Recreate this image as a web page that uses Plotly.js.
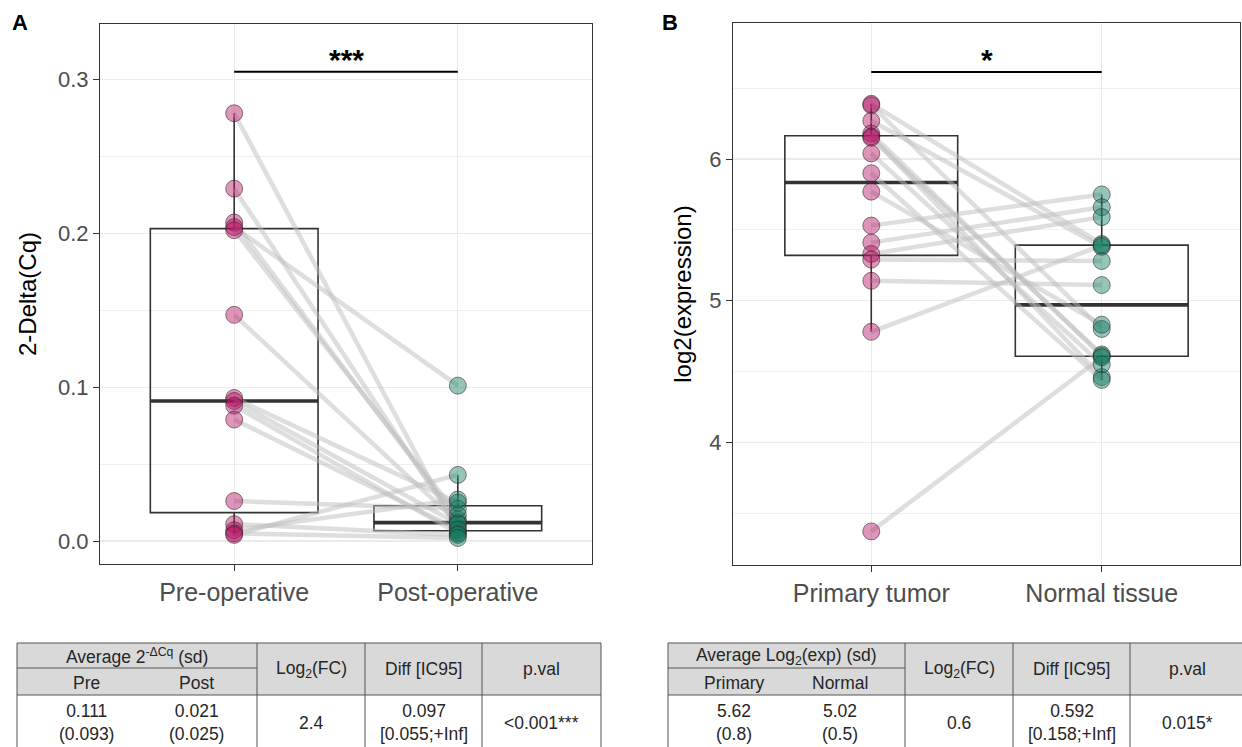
<!DOCTYPE html>
<html><head><meta charset="utf-8">
<script src="https://cdn.plot.ly/plotly-3.0.1.min.js"></script>
<style>body{margin:0;background:#fff}</style>
</head><body><div id="chart" style="width:1242px;height:747px"></div>
<script>
// ---------- data ----------
const groupsA = ['Pre-operative', 'Post-operative'];
const preOp  = [0.278,0.229,0.207,0.204,0.202,0.147,0.093,0.091,0.088,0.079,0.026,0.011,0.007,0.005,0.004];
const postOp = [0.006,0.009,0.014,0.101,0.017,0.012,0.025,0.011,0.005,0.0075,0.021,0.004,0.027,0.002,0.043];

const groupsB = ['Primary tumor', 'Normal tissue'];
const primary = [6.39,6.38,6.27,6.18,6.16,6.15,6.04,5.90,5.77,5.53,5.41,5.33,5.29,5.14,4.78,3.37];
const normal  = [5.40,4.80,5.38,4.61,4.46,4.62,4.55,4.44,4.83,5.75,5.66,5.59,5.28,5.11,5.39,4.60];

const sigLabels = ['***', '*'];
const sigHeights = [0.305, 6.615];

const tableAHead1 = ['Average 2<sup>-ΔCq</sup> (sd)', 'Log<sub>2</sub>(FC)', 'Diff [IC95]', 'p.val'];
const tableAHead2 = ['Pre', 'Post'];
const tableARow   = ['0.111<br>(0.093)', '0.021<br>(0.025)', '2.4', '0.097<br>[0.055;+Inf]', '&lt;0.001***'];
const tableBHead1 = ['Average Log<sub>2</sub>(exp) (sd)', 'Log<sub>2</sub>(FC)', 'Diff [IC95]', 'p.val'];
const tableBHead2 = ['Primary', 'Normal'];
const tableBRow   = ['5.62<br>(0.8)', '5.02<br>(0.5)', '0.6', '0.592<br>[0.158;+Inf]', '0.015*'];

// ---------- helpers ----------
const W = 1242, H = 747;
const px = x => x / W, py = y => 1 - y / H;
function q7(arr, p) {
  const s = [...arr].sort((a, b) => a - b);
  const h = (s.length - 1) * p, lo = Math.floor(h), hi = Math.min(lo + 1, s.length - 1);
  return s[lo] + (h - lo) * (s[hi] - s[lo]);
}
function bstats(arr) {
  const q1 = q7(arr, .25), m = q7(arr, .5), q3 = q7(arr, .75), iqr = q3 - q1;
  const lf = Math.min(...arr.filter(v => v >= q1 - 1.5 * iqr));
  const uf = Math.max(...arr.filter(v => v <= q3 + 1.5 * iqr));
  return {q1, m, q3, lf, uf};
}
const BOXW = 0.75;
const pinkFill = 'rgba(180,20,100,0.45)', tealFill = 'rgba(20,125,98,0.45)';
const ptLine = 'rgba(50,30,40,0.55)';

const traces = [];
function panel(a, b, xa, ya) {
  const sa = bstats(a), sb = bstats(b);
  traces.push({type:'box', xaxis:xa, yaxis:ya, x:[1,2], q1:[sa.q1,sb.q1], median:[sa.m,sb.m], q3:[sa.q3,sb.q3],
    lowerfence:[sa.lf,sb.lf], upperfence:[sa.uf,sb.uf], width:BOXW, whiskerwidth:0, boxpoints:false,
    fillcolor:'rgba(0,0,0,0)', line:{color:'#333333', width:1.6}, hoverinfo:'skip'});
  [sa, sb].forEach((s, i) => traces.push({type:'scatter', mode:'lines', xaxis:xa, yaxis:ya,
    x:[i + 1 - BOXW/2, i + 1 + BOXW/2], y:[s.m, s.m], line:{color:'#333333', width:3.6}, hoverinfo:'skip'}));
  a.forEach((v, i) => traces.push({type:'scatter', mode:'lines', xaxis:xa, yaxis:ya, x:[1,2], y:[v, b[i]],
    line:{color:'rgba(190,190,190,0.5)', width:4.5}, hoverinfo:'skip'}));
  traces.push({type:'scatter', mode:'markers', xaxis:xa, yaxis:ya, x:a.map(() => 1), y:a,
    marker:{size:17, color:pinkFill, line:{color:ptLine, width:1}}});
  traces.push({type:'scatter', mode:'markers', xaxis:xa, yaxis:ya, x:b.map(() => 2), y:b,
    marker:{size:17, color:tealFill, line:{color:ptLine, width:1}}});
}
panel(preOp, postOp, 'x', 'y');
panel(primary, normal, 'x2', 'y2');
// significance bars
traces.push({type:'scatter', mode:'lines', xaxis:'x', yaxis:'y', x:[1,2], y:[sigHeights[0], sigHeights[0]], line:{color:'#000', width:2}, hoverinfo:'skip'});
traces.push({type:'scatter', mode:'lines', xaxis:'x2', yaxis:'y2', x:[1,2], y:[sigHeights[1], sigHeights[1]], line:{color:'#000', width:2}, hoverinfo:'skip'});

const FONT = 'Liberation Sans, Arial, Helvetica, sans-serif';
const axBase = {showgrid:true, gridcolor:'#EBEBEB', gridwidth:1.2, showline:true, mirror:true, linecolor:'#333333',
  linewidth:1, ticks:'outside', ticklen:6, tickcolor:'#333333', zeroline:false, fixedrange:true};
const layout = {
  width:W, height:H, margin:{l:0, r:0, t:0, b:0}, paper_bgcolor:'#fff', plot_bgcolor:'#fff', showlegend:false,
  font:{family:FONT, color:'#000'},
  xaxis: Object.assign({}, axBase, {domain:[px(100), px(592)], range:[0.4, 2.6], tickvals:[1,2], ticktext:groupsA,
    tickfont:{size:25, color:'#4D4D4D'}, anchor:'y'}),
  yaxis: Object.assign({}, axBase, {domain:[py(564), py(24)], range:[-0.0149, 0.336], tick0:0, dtick:0.1, tickformat:'.1f',
    tickfont:{size:22, color:'#4D4D4D'}, anchor:'x', minor:{dtick:0.05, showgrid:true, gridcolor:'#F0F0F0', gridwidth:1, ticks:''},
    title:{text:'2-Delta(Cq)', font:{size:24, color:'#000'}, standoff:14}}),
  xaxis2: Object.assign({}, axBase, {domain:[px(733), px(1240)], range:[0.4, 2.6], tickvals:[1,2], ticktext:groupsB,
    tickfont:{size:25, color:'#4D4D4D'}, anchor:'y2'}),
  yaxis2: Object.assign({}, axBase, {domain:[py(565), py(23)], range:[3.133, 6.961], tick0:0, dtick:1,
    tickfont:{size:22, color:'#4D4D4D'}, anchor:'x2', minor:{dtick:0.5, showgrid:true, gridcolor:'#F0F0F0', gridwidth:1, ticks:''},
    title:{text:'log2(expression)', font:{size:24, color:'#000'}, standoff:10}}),
  annotations:[], shapes:[]
};
// significance labels
layout.annotations.push({xref:'x', yref:'y', x:1.5, y:sigHeights[0], text:'<b>' + sigLabels[0] + '</b>', showarrow:false, xanchor:'center', yanchor:'bottom', font:{size:30, color:'#000'}, yshift:-6});
layout.annotations.push({xref:'x2', yref:'y2', x:1.5, y:sigHeights[1], text:'<b>' + sigLabels[1] + '</b>', showarrow:false, xanchor:'center', yanchor:'bottom', font:{size:30, color:'#000'}, yshift:-6});
// panel letters
layout.annotations.push({xref:'paper', yref:'paper', x:px(20), y:py(22), text:'<b>A</b>', showarrow:false, xanchor:'center', yanchor:'middle', font:{size:22, color:'#000'}});
layout.annotations.push({xref:'paper', yref:'paper', x:px(670), y:py(22), text:'<b>B</b>', showarrow:false, xanchor:'center', yanchor:'middle', font:{size:22, color:'#000'}});

// tables
function table(x0, cols, x1, subL, subR, head1, head2, row) {
  const top = 643, mid = 668, hb = 695, bot = 760;
  const L = '#555555';
  layout.shapes.push({type:'rect', xref:'paper', yref:'paper', x0:px(x0), x1:px(x1), y0:py(hb), y1:py(top), fillcolor:'#D9D9D9', line:{width:0}, layer:'below'});
  layout.shapes.push({type:'rect', xref:'paper', yref:'paper', x0:px(x0), x1:px(x1), y0:py(bot), y1:py(top), fillcolor:'rgba(0,0,0,0)', line:{color:L, width:1}});
  layout.shapes.push({type:'line', xref:'paper', yref:'paper', x0:px(x0), x1:px(cols[0]), y0:py(mid), y1:py(mid), line:{color:L, width:1}});
  layout.shapes.push({type:'line', xref:'paper', yref:'paper', x0:px(x0), x1:px(x1), y0:py(hb), y1:py(hb), line:{color:L, width:1}});
  cols.forEach(c => layout.shapes.push({type:'line', xref:'paper', yref:'paper', x0:px(c), x1:px(c), y0:py(top), y1:py(bot), line:{color:L, width:1}}));
  const avgC = (x0 + cols[0]) / 2;
  const centers = [avgC, (cols[0] + cols[1]) / 2, (cols[1] + cols[2]) / 2, (cols[2] + x1) / 2];
  const t = (x, y, s) => layout.annotations.push({xref:'paper', yref:'paper', x:px(x), y:py(y), text:s, showarrow:false,
    xanchor:'center', yanchor:'middle', font:{size:17.5, color:'#262626'}, align:'center'});
  t(centers[0], 656, head1[0]);
  for (let i = 1; i < 4; i++) t(centers[i], 669, head1[i]);
  t(subL, 683, head2[0]); t(subR, 683, head2[1]);
  t(subL, 722, row[0]); t(subR, 722, row[1]);
  t(centers[1], 723, row[2]); t(centers[2], 722, row[3]); t(centers[3], 723, row[4]);
}
table(17, [257, 365, 482], 601, 86, 196, tableAHead1, tableAHead2, tableARow);
table(668, [905, 1013, 1130], 1244, 734, 840, tableBHead1, tableBHead2, tableBRow);

Plotly.newPlot('chart', traces, layout, {staticPlot:true, displayModeBar:false});
</script></body></html>
